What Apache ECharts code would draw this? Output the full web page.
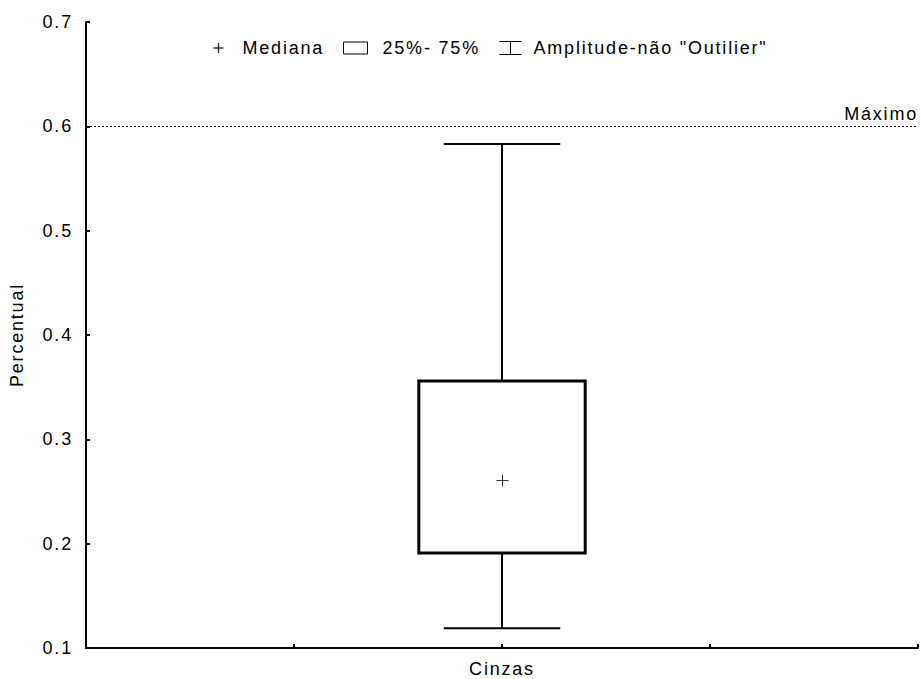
<!DOCTYPE html>
<html>
<head>
<meta charset="utf-8">
<script src="https://cdn.jsdelivr.net/npm/echarts@6/dist/echarts.min.js"></script>
<style>
  html, body { margin: 0; padding: 0; background: #fff; }
  #chart { width: 921px; height: 679px; }
  /* the labels use a slightly tracked-out sans face */
  #chart svg text { letter-spacing: 1.8px; }
</style>
</head>
<body>
<div id="chart"></div>
<script>
// Box-plot summary of the "Cinzas" (ash) percentage
const categories = ['Cinzas'];
const medianValues = [0.261];
const q1Values = [0.191];
const q3Values = [0.356];
const whiskerLow = [0.119];
const whiskerHigh = [0.583];
const maximumLimit = 0.6;
const yTicks = [0.1, 0.2, 0.3, 0.4, 0.5, 0.6, 0.7];

const FONT = "'Liberation Sans', Arial, sans-serif";
const FS = 18;

// Each category sits at x = its index on a value axis running from -2 to 2
const boxData = categories.map((c, i) => [i, q1Values[i], q3Values[i]]);
const whiskerData = categories.map((c, i) => [i, whiskerLow[i], whiskerHigh[i], q1Values[i], q3Values[i]]);
const medianData = categories.map((c, i) => [i, medianValues[i]]);

const chart = echarts.init(document.getElementById('chart'), null, { renderer: 'svg' });

const legendText = { color: '#000', fontFamily: FONT, fontSize: FS, lineHeight: 20 };

chart.setOption({
  animation: false,
  backgroundColor: '#fff',
  grid: { left: 83, right: 2, top: 22, bottom: 31 },
  legend: [
    {
      left: 211, top: 38, padding: 0, selectedMode: false,
      itemWidth: 10, itemHeight: 10,
      textStyle: Object.assign({ padding: [0, 0, 0, 14] }, legendText),
      data: [{ name: 'Mediana', icon: 'path://M5,0L5,10M0,5L10,5',
               itemStyle: { color: 'none', borderColor: '#000', borderWidth: 1.5 } }]
    },
    {
      left: 343, top: 38, padding: 0, selectedMode: false,
      itemWidth: 24, itemHeight: 12,
      textStyle: Object.assign({ padding: [0, 0, 0, 10] }, legendText),
      data: [{ name: '25%- 75%', icon: 'rect',
               itemStyle: { color: '#fff', borderColor: '#000', borderWidth: 1 } }]
    },
    {
      left: 497, top: 38, padding: 0, selectedMode: false,
      itemWidth: 22, itemHeight: 13,
      textStyle: Object.assign({ padding: [0, 0, 0, 7] }, legendText),
      data: [{ name: 'Amplitude-não "Outilier"', icon: 'path://M0,0L22,0M11,0L11,13M0,13L22,13',
               itemStyle: { color: 'none', borderColor: '#000', borderWidth: 1 } }]
    }
  ],
  xAxis: {
    type: 'value',
    min: -2, max: 2, interval: 1,
    splitLine: { show: false },
    axisLine: { show: true, onZero: false, lineStyle: { color: '#000', width: 2 } },
    axisTick: { show: true, inside: true, length: 4, lineStyle: { color: '#000', width: 2 } },
    axisLabel: {
      color: '#000', fontFamily: FONT, fontSize: FS, margin: 12,
      showMinLabel: true, showMaxLabel: true,
      formatter: v => (Number.isInteger(v) && categories[v] !== undefined) ? categories[v] : ''
    }
  },
  yAxis: {
    type: 'value',
    min: 0.1, max: 0.7, interval: 0.1,
    name: 'Percentual',
    nameLocation: 'middle',
    nameGap: 60,
    nameTextStyle: { color: '#000', fontFamily: FONT, fontSize: FS },
    splitLine: { show: false },
    axisLine: { show: true, onZero: false, lineStyle: { color: '#000', width: 2 } },
    axisTick: { show: true, inside: true, length: 4, lineStyle: { color: '#000', width: 2 } },
    axisLabel: {
      color: '#000', fontFamily: FONT, fontSize: FS, margin: 13,
      formatter: v => yTicks.find(t => Math.abs(t - v) < 1e-9).toFixed(1)
    }
  },
  series: [
    {
      name: 'Amplitude-não "Outilier"',
      type: 'custom',
      z: 2,
      data: whiskerData,
      renderItem: (params, api) => {
        const x = api.value(0);
        const lo = api.coord([x, api.value(1)]);
        const hi = api.coord([x, api.value(2)]);
        const q1 = api.coord([x, api.value(3)]);
        const q3 = api.coord([x, api.value(4)]);
        const half = api.size([0.56, 0])[0] / 2;
        const st = { stroke: '#000', lineWidth: 2 };
        return {
          type: 'group',
          children: [
            { type: 'line', shape: { x1: hi[0], y1: hi[1], x2: q3[0], y2: q3[1] }, style: st },
            { type: 'line', shape: { x1: q1[0], y1: q1[1], x2: lo[0], y2: lo[1] }, style: st },
            { type: 'line', shape: { x1: hi[0] - half, y1: hi[1], x2: hi[0] + half, y2: hi[1] }, style: st },
            { type: 'line', shape: { x1: lo[0] - half, y1: lo[1], x2: lo[0] + half, y2: lo[1] }, style: st }
          ]
        };
      },
      markLine: {
        silent: true,
        symbol: ['none', 'none'],
        lineStyle: { color: '#000', width: 1.2, type: [2, 2] },
        label: {
          show: true, position: 'insideEndTop', distance: [0, 3],
          formatter: 'Máximo', color: '#000', fontFamily: FONT, fontSize: FS
        },
        data: [{ yAxis: maximumLimit }]
      }
    },
    {
      name: '25%- 75%',
      type: 'custom',
      z: 3,
      data: boxData,
      renderItem: (params, api) => {
        const x = api.value(0);
        const a = api.coord([x, api.value(1)]);
        const b = api.coord([x, api.value(2)]);
        const w = api.size([0.8, 0])[0];
        return {
          type: 'rect',
          shape: { x: a[0] - w / 2, y: b[1], width: w, height: a[1] - b[1] },
          style: { fill: '#fff', stroke: '#000', lineWidth: 3 }
        };
      }
    },
    {
      name: 'Mediana',
      type: 'scatter',
      z: 4,
      data: medianData,
      symbol: 'path://M6,0L6,12M0,6L12,6',
      symbolSize: 12,
      symbolOffset: [0.5, 0.5],
      itemStyle: { color: 'none', borderColor: '#000', borderWidth: 1 }
    }
  ]
});
</script>
</body>
</html>
